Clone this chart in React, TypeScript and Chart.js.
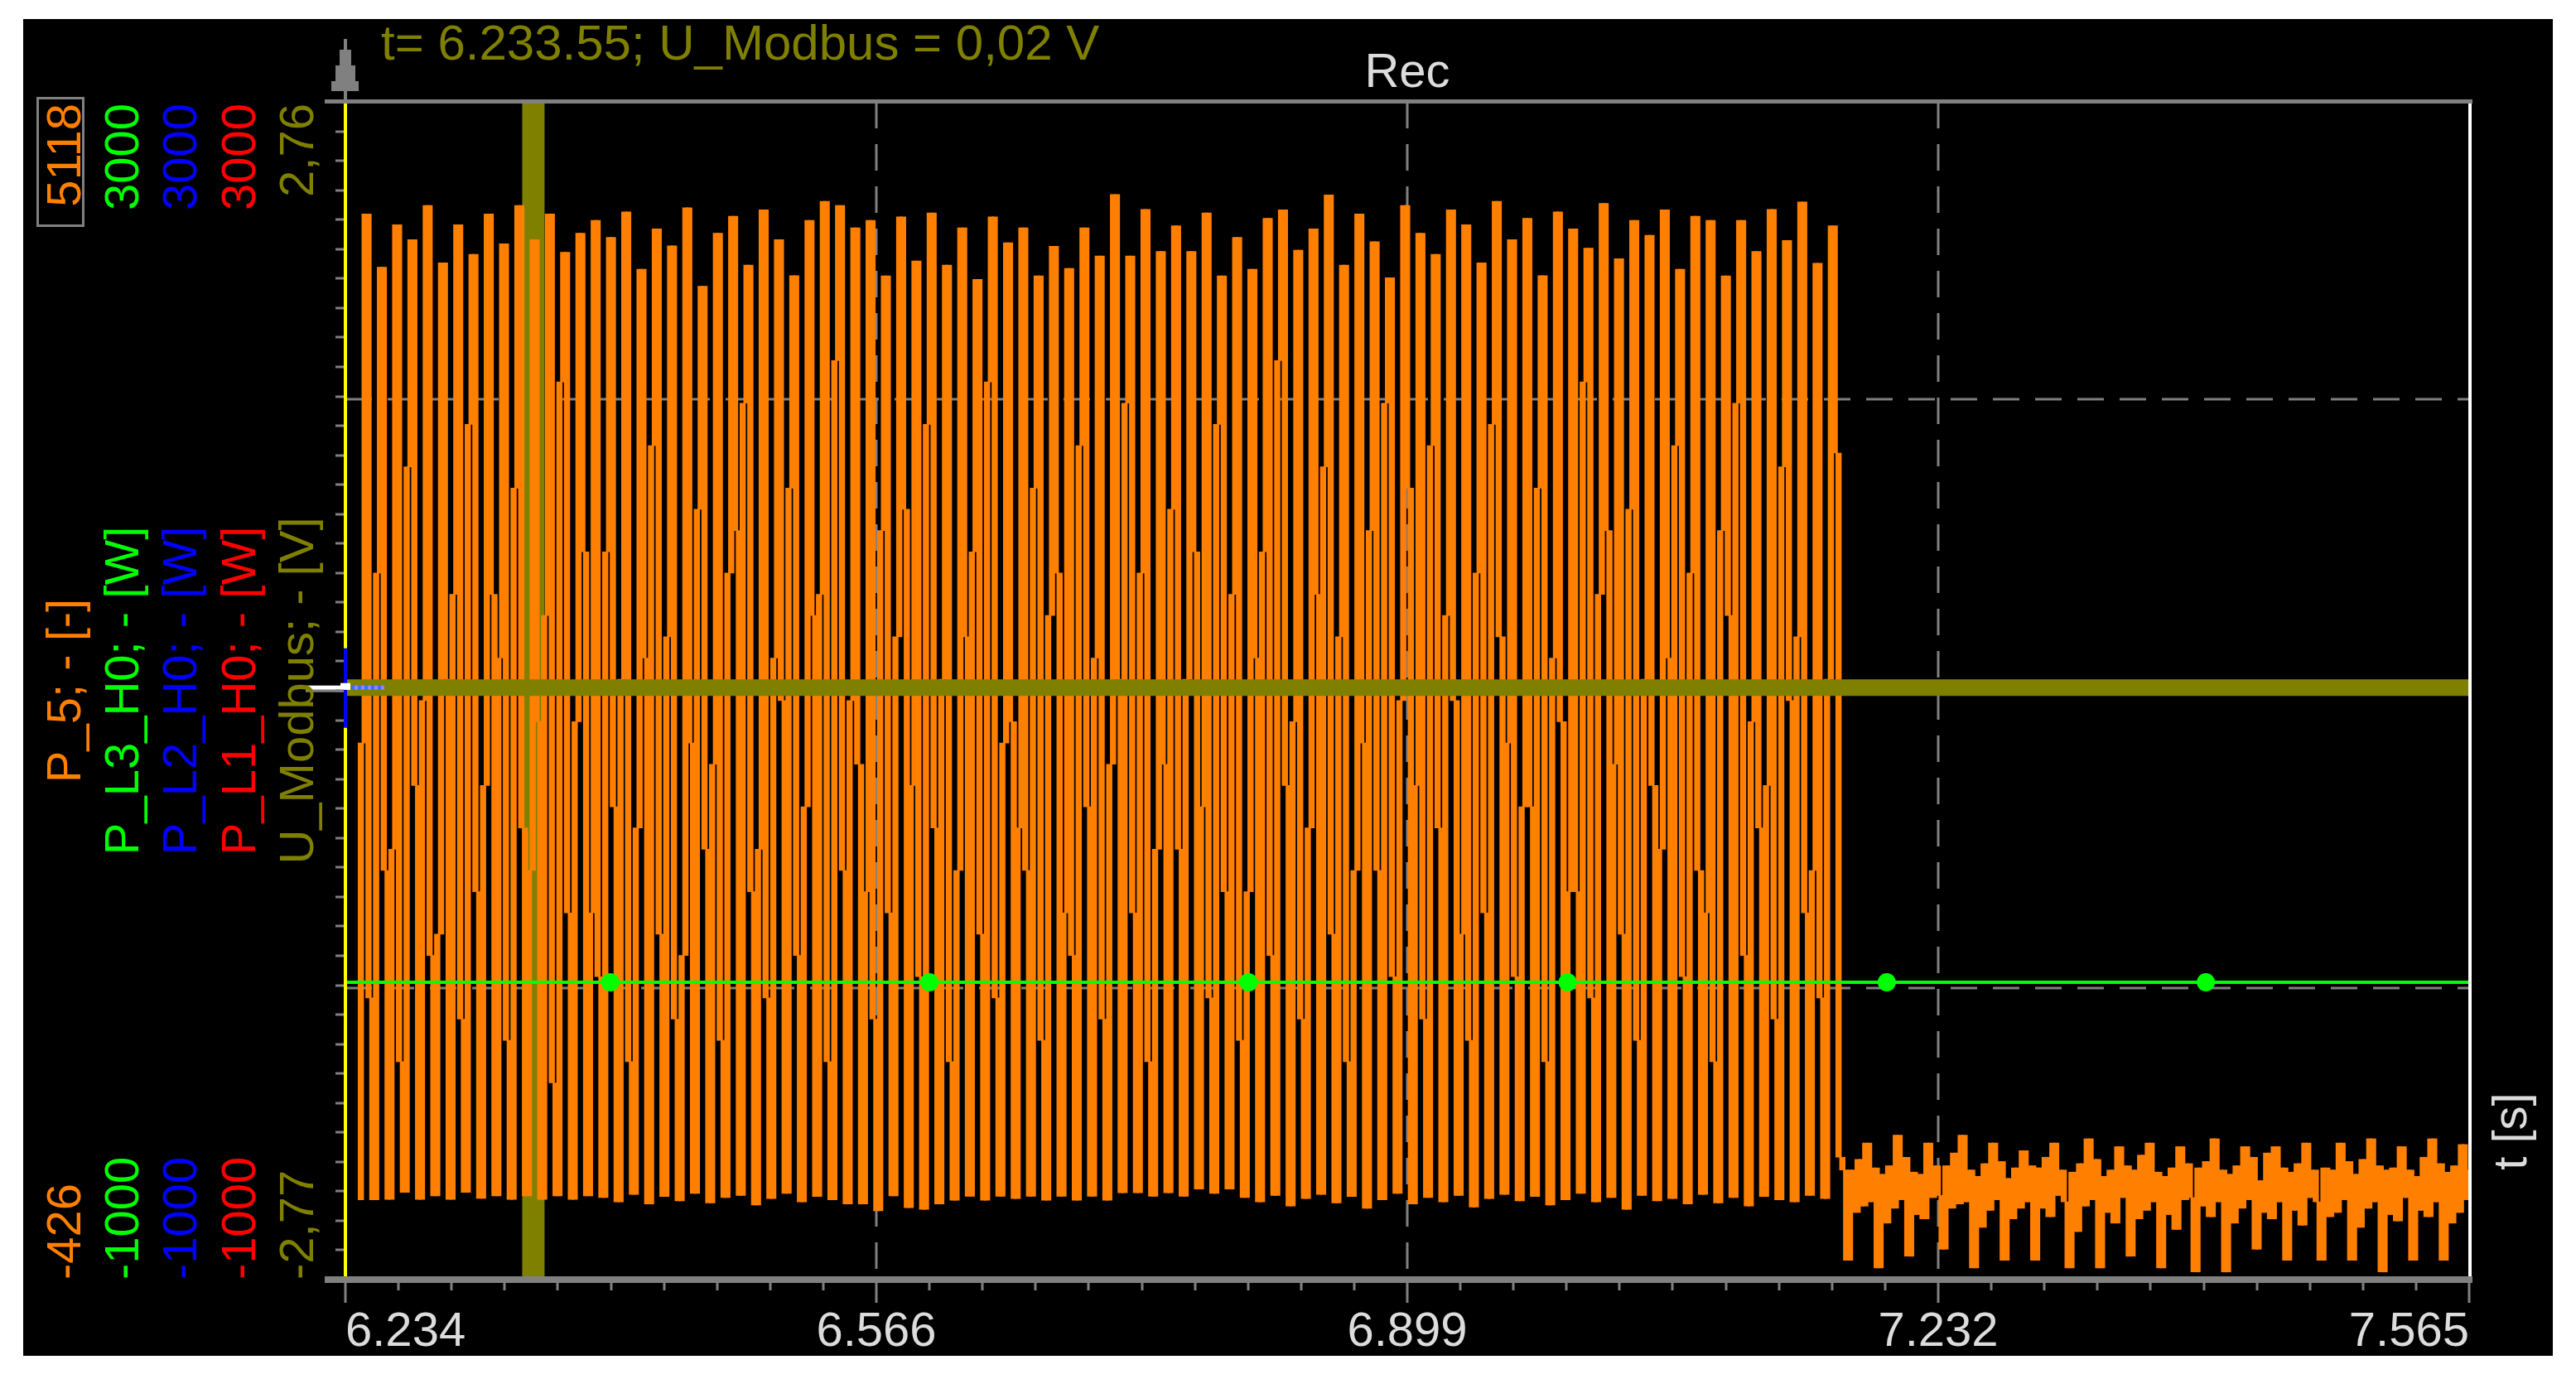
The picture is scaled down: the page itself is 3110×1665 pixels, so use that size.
import React, { useEffect, useRef } from 'react';
import { Chart, registerables } from 'chart.js';

Chart.register(...registerables);

// ---------------- data ----------------
const X_MIN = 6.234;
const X_MAX = 7.565;
const X_TICKS = [6.234, 6.56675, 6.8995, 7.23225, 7.565];
const X_TICK_LABELS = ['6.234', '6.566', '6.899', '7.232', '7.565'];

const HEADER_TEXT = 't= 6.233.55; U_Modbus = 0,02 V';
const TITLE_TEXT = 'Rec';
const X_AXIS_TITLE = 't [s]';

const CHANNEL_NAMES = ['P_5; - [-]', 'P_L3_H0; - [W]', 'P_L2_H0; - [W]', 'P_L1_H0; - [W]', 'U_Modbus; - [V]'];
const CHANNEL_MAX_LABELS = ['5118', '3000', '3000', '3000', '2,76'];
const CHANNEL_MIN_LABELS = ['-426', '-1000', '-1000', '-1000', '-2,77'];
const CHANNEL_COLORS = ['#ff8000', '#00ff00', '#0000ff', '#ff0000', '#808000'];
const CHANNEL_MIN = [-426, -1000, -1000, -1000, -2.77];
const CHANNEL_MAX = [5118, 3000, 3000, 3000, 2.76];

const CURSOR_T = 6.3518;

// P_5 : sampled signal, start time and sample step
const P5_START = 6.2413;
const P5_DT = 0.002393;
const P5_INITIAL = -50;
// per oscillation cycle: rising shoulder, peak, falling shoulder, trough
const P5_RISE = [
  2100, 2900, 1600, 3400, 2300, 1200, 2800, 3600, 1900, 2500, 3300, 1500, 2700, 3800, 2200, 1300,
  3000, 2400, 1700, 3500, 2600, 1100, 3200, 2000, 2900, 3700, 1600, 2500, 3300, 1800, 2800, 3900,
  2300, 1400, 3100, 2600, 1900, 3600, 2400, 1500, 3000, 3800, 2100, 1700, 3300, 2700, 1300, 3500,
  2500, 2000, 3700, 2900, 1600, 3200, 2400, 1800, 3600, 2800, 1400, 3000, 3900, 2200, 1700, 3400,
  2600, 1500, 3100, 3700, 2300, 1900, 3500, 2700, 1200, 2900, 3600, 2100, 1800, 3300, 2500, 1400,
  3800, 2800, 2000, 3200, 2400, 1600, 3500, 2900, 1300, 3100, 3700, 2200, 1900, 3400, 2600, 1500, 2400,
];
const P5_HIGH = [
  4590, 4340, 4540, 4470, 4630, 4360, 4540, 4400, 4590, 4450, 4630, 4470, 4590, 4410, 4500,
  4560, 4480, 4600, 4330, 4520, 4440, 4620, 4250, 4500, 4580, 4350, 4610, 4470, 4300, 4560, 4650,
  4630, 4525, 4560, 4299, 4577, 4369, 4595, 4350, 4525, 4282, 4577, 4455, 4525, 4299, 4438, 4334,
  4525, 4393, 4682, 4393, 4612, 4414, 4535, 4414, 4595, 4299,
  4480, 4330, 4570, 4610, 4420, 4520, 4680, 4350, 4590, 4460, 4290, 4630, 4500, 4400, 4610, 4540,
  4360, 4650, 4470, 4570, 4300, 4600, 4520, 4430, 4640, 4380, 4560, 4490, 4610, 4330, 4580,
  4560, 4299, 4560, 4414, 4612, 4466, 4647, 4358, 4535,
];
const P5_FALL = [
  900, 1500, 600, 1900, 1100, 2400, 800, 1400, 2800, 700, 1700, 2200, 500, 1300, 3000, 1000,
  1800, 600, 2500, 1200, 800, 2100, 1600, 700, 3100, 1400, 900, 2300, 1100, 2700, 600, 1500,
  2000, 800, 1300, 3200, 1000, 1700, 600, 2600, 1200, 900, 2200, 1500, 700, 2900, 1100, 1800,
  800, 2400, 1300, 600, 2000, 1600, 3000, 900, 1400, 700, 2500, 1100, 1900, 800, 2800, 1200,
  600, 2100, 1500, 1000, 3300, 800, 1700, 2300, 700, 1300, 2600, 1000, 1800, 600, 2200, 1400,
  900, 3100, 1200, 700, 1900, 2500, 1000, 1500, 600, 2700, 1100, 1700, 800, 2300, 1300, 900, 3465,
];
const P5_LOW = [
  -50, -48, -15, -48, -32, -48, -15, -44, -32, -48, -32, -48, -32, -48, -32, -40,
  -60, -25, -70, -35, -55, -20, -65, -40, -30, -75, -45, -20, -60, -35, -50, -70,
  -70, -102, -32, -87, -95, -70, -52, -34, -52, -34, -45, -34, -52, -34, -52, -34,
  -52, -17, -17, -34, -17, -34, 0, -20, 0, -40, -60, -30, -80, -45, -25, -65,
  -35, -90, -50, -20, -70, -40, -60, -30, -85, -45, -25, -55, -35, -75, -50, -20,
  -60, -40, -95, -30, -55, -45, -70, -25, -65, -40, -80, -35, -50, -60, -30, -45, 150,
];
// after the oscillation stops: residual noise
const P5_NOISE = [
  90,
  -335, 90, -110, 140, -80, 217, -60, 100,
  -371, 70, -160, 110, -90, 254, -50, 150,
  -316, 80, -120, 70, -140, 217, -40, 110, -30,
  -283, 110, -90, 170, -70, 254, -60, 90,
  -371, 60, -180, 120, -100, 217, -50, 130,
  -335, 50, -140, 100, -90, 181, -60, 110,
  -335, 100, -90, 150, -130, 217, -30, 90, -60,
  -371, 80, -200, 120, -80, 237, -50, 140,
  -371, 60, -110, 90, -160, 200, -40, 110,
  -316, 90, -140, 160, -100, 217, -60, 80,
  -371, 60, -120, 100, -190, 200, -50, 120, -40,
  -390, 100, -80, 130, -130, 237, -60, 90,
  -390, 70, -160, 110, -90, 200, -50, 150,
  -283, 40, -110, 170, -140, 200, -60, 100,
  -335, 80, -100, 120, -170, 217, -40, 90, -60,
  -335, 100, -130, 90, -110, 217, -50, 130,
  -335, 70, -180, 140, -90, 237, -60, 110,
  -390, 90, -120, 100, -150, 200, -40, 90,
  -335, 60, -100, 150, -130, 237, -60, 120,
  -335, 80, -160, 110, -110, 210, -50, 90,
];

const LINE_TIMES = [6.234, 6.4, 6.6, 6.8, 7.0, 7.2, 7.4, 7.565];
const P_L3_VALUES = [10, 10, 10, 10, 10, 10, 10, 10];
const P_L2_VALUES = [10, 10, 10, 10, 10, 10, 10, 10];
const P_L1_VALUES = [10, 10, 10, 10, 10, 10, 10, 10];
const P_L3_MARKERS = [false, true, true, true, true, true, true, false];

const U_TIMES = [6.234, 7.565];
const U_VALUES = [0.01, 0.01];

const Y_GRID_VALUES = [0, 1000, 2000]; // on the W scale

// ---------------- helpers ----------------
const FONT = '"Liberation Sans", Arial, sans-serif';
const GREY = '#808080';
const LABEL_GREY = '#dcdcdc';

function buildP5Samples() {
  const vals: number[] = [P5_INITIAL];
  for (let k = 0; k < P5_HIGH.length; k++) {
    vals.push(P5_RISE[k], P5_HIGH[k], P5_FALL[k], P5_LOW[k]);
  }
  vals.push(...P5_NOISE);
  return vals;
}

// each displayed pixel column spans the range between consecutive samples
function buildP5Columns() {
  const s = buildP5Samples();
  const cols: { x: number; y: [number, number] }[] = [];
  for (let i = 1; i < s.length; i++) {
    cols.push({ x: P5_START + i * P5_DT, y: [Math.min(s[i - 1], s[i]), Math.max(s[i - 1], s[i])] });
  }
  return cols;
}

function zip(xs: number[], ys: number[]) {
  return xs.map((x, i) => ({ x, y: ys[i] }));
}

function rotText(ctx: CanvasRenderingContext2D, text: string, x: number, y: number, align: CanvasTextAlign, color: string, size = 58) {
  ctx.save();
  ctx.translate(x, y);
  ctx.rotate(-Math.PI / 2);
  ctx.font = `${size}px ${FONT}`;
  ctx.textAlign = align;
  ctx.textBaseline = 'alphabetic';
  ctx.fillStyle = color;
  ctx.fillText(text, 0, 0);
  ctx.restore();
}

const decorPlugin = {
  id: 'decor',
  beforeDraw(chart: any) {
    const { ctx, width, height } = chart;
    ctx.save();
    ctx.fillStyle = '#000';
    ctx.fillRect(0, 0, width, height);
    ctx.restore();
  },
  beforeDatasetsDraw(chart: any) {
    const { ctx, chartArea: a, scales } = chart;
    const xs = scales.x;
    const yg = scales.yL3;
    ctx.save();
    ctx.strokeStyle = GREY;
    ctx.lineWidth = 3;
    ctx.setLineDash([32, 19]);
    X_TICKS.slice(1, -1).forEach((v) => {
      const px = Math.round(xs.getPixelForValue(v));
      ctx.beginPath();
      ctx.moveTo(px, a.top);
      ctx.lineTo(px, a.bottom);
      ctx.stroke();
    });
    Y_GRID_VALUES.forEach((v) => {
      const py = Math.round(yg.getPixelForValue(v)) + 3;
      ctx.beginPath();
      ctx.moveTo(a.left, py);
      ctx.lineTo(a.right, py);
      ctx.stroke();
    });
    ctx.setLineDash([]);
    // cursor
    const cx = xs.getPixelForValue(CURSOR_T);
    ctx.fillStyle = '#808000';
    ctx.fillRect(cx - 13.5, a.top, 27, a.bottom - a.top);
    ctx.restore();
  },
  afterDatasetsDraw(chart: any) {
    const { ctx, chartArea: a, scales } = chart;
    const xs = scales.x;
    const yg = scales.yL3;
    const y0 = scales.yU.getPixelForValue(0);
    ctx.save();
    // left yellow axis line
    ctx.fillStyle = '#ffff00';
    ctx.fillRect(a.left - 2, a.top, 4, a.bottom - a.top);
    // blue segment
    ctx.fillStyle = '#0000ff';
    ctx.fillRect(a.left - 2, y0 - 50, 4, 96);
    // white zero marker
    ctx.fillStyle = GREY;
    ctx.fillRect(a.left - 48, y0, 46, 3);
    ctx.fillStyle = '#ffffff';
    ctx.fillRect(a.left - 48, y0 - 5, 54, 5);
    ctx.fillRect(a.left - 6, y0 - 8, 12, 8);
    for (let j = 0; j < 5; j++) {
      ctx.fillStyle = '#3c6cff';
      ctx.fillRect(a.left + 7 + j * 8, y0 - 5, 4, 5);
      ctx.fillStyle = '#8f86ff';
      ctx.fillRect(a.left + 11 + j * 8, y0 - 5, 4, 5);
    }
    // right border
    ctx.fillStyle = '#ffffff';
    ctx.fillRect(a.right - 1, a.top, 4, a.bottom - a.top);
    // top and bottom frame
    ctx.fillStyle = GREY;
    ctx.fillRect(a.left - 25, a.top - 3, a.right + 4 - (a.left - 25), 5);
    ctx.fillRect(a.left - 25, a.bottom - 4, a.right + 4 - (a.left - 25), 8);
    // bottom ticks
    for (let j = 0; j <= 40; j++) {
      const px = xs.getPixelForValue(X_MIN + (j * (X_MAX - X_MIN)) / 40);
      const len = j % 10 === 0 ? 24 : 9;
      ctx.fillRect(Math.round(px) - 1.5, a.bottom + 4, 3, len);
    }
    // left ticks
    for (let j = 1; j < 40; j++) {
      const py = yg.getPixelForValue(-1000 + j * 100);
      ctx.fillRect(a.left - 12, Math.round(py) - 1.5, 10, 3);
    }
    // arrow
    const ax = a.left;
    ctx.fillRect(ax - 2, a.top - 76, 4, 76);
    ctx.fillRect(ax - 7, a.top - 63, 14, 19);
    ctx.fillRect(ax - 12, a.top - 44, 24, 19);
    ctx.fillRect(ax - 17, a.top - 25, 33, 12);
    ctx.restore();
  },
  afterDraw(chart: any) {
    const { ctx, chartArea: a } = chart;
    ctx.save();
    // header
    ctx.font = `60px ${FONT}`;
    ctx.fillStyle = '#808000';
    ctx.textAlign = 'left';
    ctx.textBaseline = 'alphabetic';
    ctx.fillText(HEADER_TEXT, 432, 49);
    // title
    ctx.font = `58px ${FONT}`;
    ctx.fillStyle = LABEL_GREY;
    ctx.textAlign = 'center';
    ctx.fillText(TITLE_TEXT, (a.left + a.right) / 2, 82);
    ctx.restore();

    // channel labels (rotated)
    const colX = [69, 139, 209, 280, 350];
    const midY = (a.top + a.bottom) / 2;
    CHANNEL_NAMES.forEach((name, i) => {
      rotText(ctx, CHANNEL_MAX_LABELS[i], colX[i], a.top + 2, 'right', CHANNEL_COLORS[i]);
      rotText(ctx, name, colX[i], midY, 'center', CHANNEL_COLORS[i]);
      rotText(ctx, CHANNEL_MIN_LABELS[i], colX[i], a.bottom, 'left', CHANNEL_COLORS[i]);
    });
    // box around first max label
    ctx.save();
    ctx.strokeStyle = GREY;
    ctx.lineWidth = 3;
    ctx.strokeRect(17.5, 95.5, 55, 154);
    ctx.restore();
    // x axis title
    rotText(ctx, X_AXIS_TITLE, 3022, 1343, 'center', LABEL_GREY);
  },
};

export default function App() {
  const ref = useRef<HTMLCanvasElement>(null);
  useEffect(() => {
    if (!ref.current) return;
    const p5 = buildP5Columns();
    const chart = new Chart(ref.current, {
      type: 'line',
      data: {
        datasets: [
          {
            label: 'P_L3_H0',
            data: zip(LINE_TIMES, P_L3_VALUES),
            yAxisID: 'yL3',
            borderColor: CHANNEL_COLORS[1],
            backgroundColor: CHANNEL_COLORS[1],
            borderWidth: 4,
            pointRadius: P_L3_MARKERS.map((m) => (m ? 11 : 0)),
            pointBorderWidth: 0,
            pointBackgroundColor: CHANNEL_COLORS[1],
            order: 0,
          },
          {
            label: 'P_L2_H0',
            data: zip(LINE_TIMES, P_L2_VALUES),
            yAxisID: 'yL2',
            borderColor: CHANNEL_COLORS[2],
            borderWidth: 4,
            pointRadius: 0,
            order: 1,
          },
          {
            label: 'P_L1_H0',
            data: zip(LINE_TIMES, P_L1_VALUES),
            yAxisID: 'yL1',
            borderColor: CHANNEL_COLORS[3],
            borderWidth: 4,
            pointRadius: 0,
            order: 1,
          },
          {
            label: 'U_Modbus',
            data: zip(U_TIMES, U_VALUES),
            yAxisID: 'yU',
            borderColor: CHANNEL_COLORS[4],
            borderWidth: 20,
            borderCapStyle: 'butt',
            pointRadius: 0,
            order: 2,
          },
          {
            type: 'bar',
            label: 'P_5',
            data: p5,
            yAxisID: 'yP5',
            xAxisID: 'x',
            backgroundColor: CHANNEL_COLORS[0],
            borderWidth: 0,
            barThickness: 6.8,
            grouped: false,
            minBarLength: 3,
            order: 3,
          },
        ],
      } as any,
      options: {
        animation: false,
        responsive: false,
        maintainAspectRatio: false,
        devicePixelRatio: 1,
        events: [],
        layout: { padding: { left: 389, right: 101, top: 100, bottom: 0 } },
        plugins: {
          legend: { display: false },
          tooltip: { enabled: false },
          title: { display: false },
        },
        scales: {
          x: {
            type: 'linear',
            position: 'bottom',
            offset: false,
            min: X_MIN,
            max: X_MAX,
            afterFit: (s: any) => {
              s.height = 92;
            },
            afterBuildTicks: (s: any) => {
              s.ticks = X_TICKS.map((v) => ({ value: v }));
            },
            grid: { display: false, drawTicks: false, offset: false },
            border: { display: false },
            ticks: {
              align: 'inner',
              color: LABEL_GREY,
              padding: 29,
              autoSkip: false,
              maxRotation: 0,
              minRotation: 0,
              font: { family: FONT, size: 58 },
              callback: (_v: any, i: number) => X_TICK_LABELS[i],
            },
          },
          yP5: { type: 'linear', display: false, min: CHANNEL_MIN[0], max: CHANNEL_MAX[0] },
          yL3: { type: 'linear', display: false, min: CHANNEL_MIN[1], max: CHANNEL_MAX[1] },
          yL2: { type: 'linear', display: false, min: CHANNEL_MIN[2], max: CHANNEL_MAX[2] },
          yL1: { type: 'linear', display: false, min: CHANNEL_MIN[3], max: CHANNEL_MAX[3] },
          yU: { type: 'linear', display: false, min: CHANNEL_MIN[4], max: CHANNEL_MAX[4] },
        },
      } as any,
      plugins: [decorPlugin],
    });
    return () => chart.destroy();
  }, []);

  return (
    <div style={{ position: 'fixed', left: 0, top: 0, width: 3110, height: 1665, background: '#ffffff', overflow: 'hidden' }}>
      <canvas
        ref={ref}
        width={3054}
        height={1614}
        style={{ position: 'absolute', left: 28, top: 23, width: 3054, height: 1614, background: '#000' }}
      />
    </div>
  );
}
